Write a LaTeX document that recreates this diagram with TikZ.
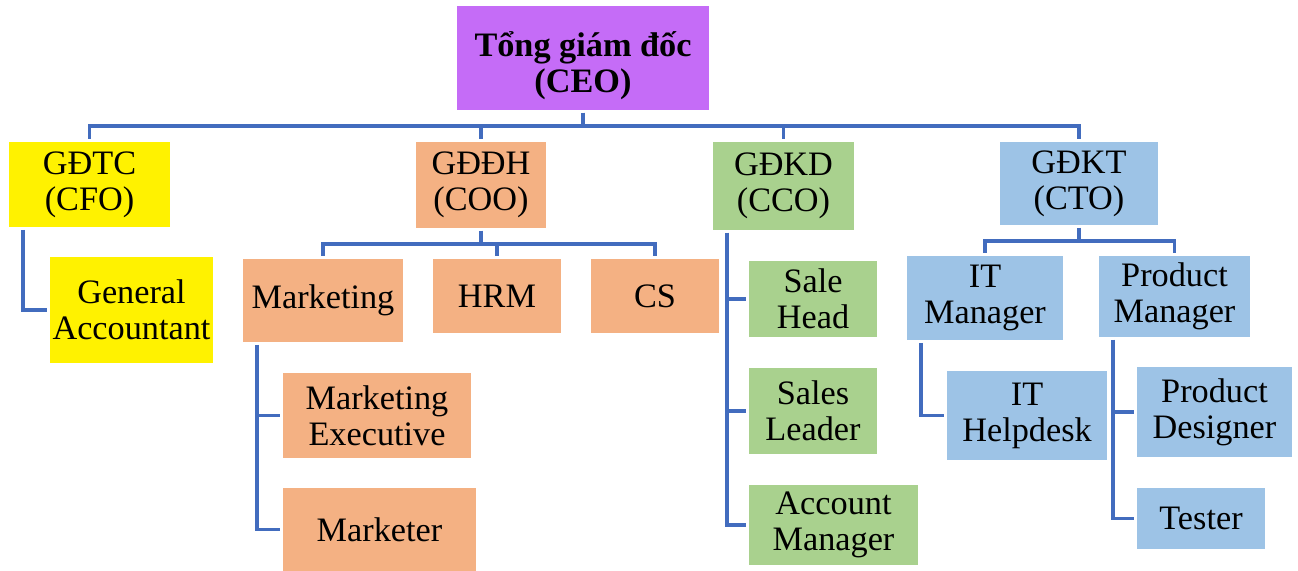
\documentclass[tikz,border=0pt]{standalone}
\usepackage{fontspec}
\setmainfont{Liberation Serif}
\usepackage{xcolor}
\usepackage{tikz}
\usetikzlibrary{calc}

\definecolor{ceocol}{RGB}{197,108,247}
\definecolor{cfocol}{RGB}{255,242,0}
\definecolor{coocol}{RGB}{244,177,131}
\definecolor{ccocol}{RGB}{169,209,142}
\definecolor{ctocol}{RGB}{157,195,230}
\definecolor{linecol}{RGB}{66,108,190}

\begin{document}
\begin{tikzpicture}[x=0.02cm,y=-0.02cm,
	box/.style={fill=#1, align=center, inner sep=0pt, outer sep=1.7pt,
		font=\fontsize{19.5}{20.5}\selectfont},
	link/.style={draw=linecol, line width=1.9pt}]
	\useasboundingbox (0,0) rectangle (1298,571);
	% top
	\node[box=ceocol, minimum width=5.04cm, minimum height=2.08cm,
		font=\fontsize{19.5}{20.5}\selectfont\bfseries] (ceo) at (583,58) {\rule{0pt}{23pt}Tổng giám đốc\\(CEO)};
	% second row
	\node[box=cfocol, minimum width=3.22cm, minimum height=1.70cm] (cfo) at (89.5,184.5) {GĐTC\\(CFO)};
	\node[box=coocol, minimum width=2.60cm, minimum height=1.72cm] (coo) at (481,185) {GĐĐH\\(COO)};
	\node[box=ccocol, minimum width=2.82cm, minimum height=1.76cm] (cco) at (783.5,186) {GĐKD\\(CCO)};
	\node[box=ctocol, minimum width=3.16cm, minimum height=1.66cm] (cto) at (1079,183.5) {GĐKT\\(CTO)};
	% CFO
	\node[box=cfocol, minimum width=3.26cm, minimum height=2.12cm] (genacc) at (131.5,310) {General\\Accountant};
	% COO
	\node[box=coocol, minimum width=3.20cm, minimum height=1.66cm] (mkt) at (323,300.5) {Marketing};
	\node[box=coocol, minimum width=2.56cm, minimum height=1.48cm] (hrm) at (497,296) {HRM};
	\node[box=coocol, minimum width=2.56cm, minimum height=1.48cm] (cs) at (655,296) {CS};
	\node[box=coocol, minimum width=3.76cm, minimum height=1.70cm] (mktexec) at (377,415.5) {Marketing\\Executive};
	\node[box=coocol, minimum width=3.86cm, minimum height=1.66cm] (marketer) at (379.5,529.5) {Marketer};
	% CCO
	\node[box=ccocol, minimum width=2.56cm, minimum height=1.52cm] (salehead) at (813,299) {Sale\\Head};
	\node[box=ccocol, minimum width=2.56cm, minimum height=1.72cm] (salesleader) at (813,411) {Sales\\Leader};
	\node[box=ccocol, minimum width=3.38cm, minimum height=1.60cm] (accmgr) at (833.5,525) {Account\\Manager};
	% CTO
	\node[box=ctocol, minimum width=3.12cm, minimum height=1.68cm] (itmgr) at (985,298) {IT\\Manager};
	\node[box=ctocol, minimum width=3.02cm, minimum height=1.62cm] (prodmgr) at (1174.5,296.5) {Product\\Manager};
	\node[box=ctocol, minimum width=3.20cm, minimum height=1.78cm] (ithelp) at (1027,415.5) {IT\\Helpdesk};
	\node[box=ctocol, minimum width=3.10cm, minimum height=1.80cm] (proddes) at (1214.5,412) {Product\\Designer};
	\node[box=ctocol, minimum width=2.56cm, minimum height=1.22cm] (tester) at (1201,518.5) {Tester};
	% connectors
	\foreach \c in {cfo,coo,cco,cto}
		\draw[link] (ceo.south) -- ++(0,13) -| (\c.north);
	\foreach \c in {mkt,hrm,cs}
		\draw[link] (coo.south) -- ++(0,13) -| (\c.north);
	\foreach \c in {itmgr,prodmgr}
		\draw[link] (cto.south) -- ++(0,13) -| (\c.north);
	\draw[link] ($(cfo.south west)+(17,0)$) |- (genacc.west);
	\foreach \c in {mktexec,marketer}
		\draw[link] ($(mkt.south west)+(17,0)$) |- (\c.west);
	\foreach \c in {salehead,salesleader,accmgr}
		\draw[link] ($(cco.south west)+(17,0)$) |- (\c.west);
	\draw[link] ($(itmgr.south west)+(17,0)$) |- (ithelp.west);
	\foreach \c in {proddes,tester}
		\draw[link] ($(prodmgr.south west)+(17,0)$) |- (\c.west);
\end{tikzpicture}
\end{document}
